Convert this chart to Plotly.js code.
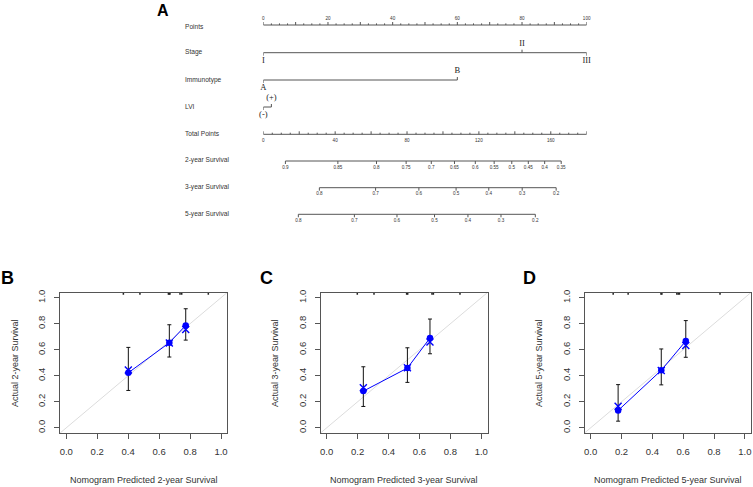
<!DOCTYPE html>
<html><head><meta charset="utf-8">
<script src="https://cdn.plot.ly/plotly-3.0.1.min.js"></script>
<style>html,body{margin:0;padding:0;background:#fff}#chart{width:753px;height:487px}</style>
</head><body><div id="chart"></div>
<script>
// ---------------- Nomogram data ----------------
const rowNames = ['Points','Stage','Immunotype','LVI','Total Points','2-year Survival','3-year Survival','5-year Survival'];
const pointsLabels = [0,20,40,60,80,100];
const stageLevels = ['I','II','III'];
const stagePoints = [0,80,100];
const immunoLevels = ['A','B'];
const immunoPoints = [0,60];
const lviLevels = ['(-)','(+)'];
const lviPoints = [0,2.5];
const totalPointsLabels = [0,40,80,120,160];
const totalPointsMax = 180;
const surv2Labels = ['0.9','0.85','0.8','0.75','0.7','0.65','0.6','0.55','0.5','0.45','0.4','0.35'];
const surv2Points = [12.3,41.5,63,79.5,93.5,106.4,118,128.5,138.3,147.5,156.6,165.8];
const surv3Labels = ['0.8','0.7','0.6','0.5','0.4','0.3','0.2'];
const surv3Points = [31.2,62.5,86.6,107.3,125.5,144.1,163.0];
const surv5Labels = ['0.8','0.7','0.6','0.5','0.4','0.3','0.2'];
const surv5Points = [19.5,50.7,74.4,95.3,113.9,132.3,151.4];

// ---------------- Calibration data ----------------
const cal2Pred = [0.401,0.666,0.772];
const cal2Obs  = [0.423,0.654,0.787];
const cal2Lo   = [0.287,0.544,0.674];
const cal2Hi   = [0.618,0.792,0.915];
const cal2Corr = [0.444,0.652,0.756];
const rug2 = [0.369,0.476,0.660,0.665,0.670,0.735,0.746,0.918];

const cal3Pred = [0.237,0.522,0.668];
const cal3Obs  = [0.282,0.459,0.690];
const cal3Lo   = [0.164,0.349,0.569];
const cal3Hi   = [0.469,0.615,0.836];
const cal3Corr = [0.308,0.462,0.659];
const rug3 = [0.198,0.306,0.517,0.524,0.681,0.690,0.862];

const cal5Pred = [0.178,0.458,0.617];
const cal5Obs  = [0.133,0.442,0.667];
const cal5Lo   = [0.051,0.330,0.542];
const cal5Hi   = [0.332,0.606,0.824];
const cal5Corr = [0.166,0.440,0.632];
const rug5 = [0.146,0.243,0.456,0.462,0.559,0.568,0.576,0.839];

const calTicks = [0,0.2,0.4,0.6,0.8,1.0];

// ---------------- Layout helpers ----------------
const W = 753, H = 487;
const px = p => p / W;
const py = p => 1 - p / H;
const rowY = [25,52.7,80,107,134.3,161,187.7,214.3];
const rowLabelY = [26.5,52.3,80,106.7,133.8,160.3,187,213.7];
const lineCol = '#555';
const sans = 'Liberation Sans, Arial, sans-serif';
const serif = 'Liberation Serif, Times New Roman, serif';

const traces = [];
function segTrace(segs, xa, color, width){
  const xs=[], ys=[];
  segs.forEach(s=>{ xs.push(s[0],s[2],null); ys.push(s[1],s[3],null); });
  traces.push({type:'scatter',mode:'lines',x:xs,y:ys,xaxis:xa,yaxis:'y',
    line:{color:color||lineCol,width:width||1},hoverinfo:'skip',showlegend:false});
}
function textTrace(xs, ys, texts, xa, font){
  traces.push({type:'scatter',mode:'text',x:xs,y:ys,text:texts,xaxis:xa,yaxis:'y',
    textposition:'middle center',textfont:font,cliponaxis:false,hoverinfo:'skip',showlegend:false});
}
const tinyFont = {family:sans,size:4.6,color:'#333'};
const levelFont = {family:serif,size:8.5,color:'#222'};

// Points axis (ticks up, labels above)
{
  const segs=[[0,rowY[0],100,rowY[0]]];
  for(let v=0; v<=100; v+=2.5){ const h=(v%10===0)?3:1.6; segs.push([v,rowY[0],v,rowY[0]-h]); }
  segTrace(segs,'x');
  textTrace(pointsLabels, pointsLabels.map(()=>rowY[0]-6.5), pointsLabels.map(String),'x',tinyFont);
}
// Categorical rows
function levelRow(r, pts, levels){
  const y=rowY[r];
  const segs=[[pts[0],y,pts[pts.length-1],y]];
  const tx=[],ty=[];
  pts.forEach((p,i)=>{
    const above = i%2===1;
    segs.push([p,y,p,above?y-3:y+3]);
    tx.push(p); ty.push(above?y-8.7:y+7.8);
  });
  segTrace(segs,'x');
  textTrace(tx,ty,levels,'x',levelFont);
}
levelRow(1,stagePoints,stageLevels);
levelRow(2,immunoPoints,immunoLevels);
levelRow(3,lviPoints,lviLevels);
// Total points (ticks up, labels below)
{
  const y=rowY[4];
  const segs=[[0,y,totalPointsMax,y]];
  for(let v=0; v<=totalPointsMax; v+=5){ const h=(v%20===0)?3:1.6; segs.push([v,y,v,y-h]); }
  segTrace(segs,'x2');
  textTrace(totalPointsLabels,totalPointsLabels.map(()=>y+6.7),totalPointsLabels.map(String),'x2',tinyFont);
}
// Survival rows (ticks down, labels below)
function survRow(r, pts, labels){
  const y=rowY[r];
  const segs=[[pts[0],y,pts[pts.length-1],y]];
  pts.forEach(p=>segs.push([p,y,p,y+3]));
  segTrace(segs,'x2');
  textTrace(pts,pts.map(()=>y+6.6),labels,'x2',tinyFont);
}
survRow(5,surv2Points,surv2Labels);
survRow(6,surv3Points,surv3Labels);
survRow(7,surv5Points,surv5Labels);

// ---------------- Calibration panels ----------------
function calPanel(n, pred, obs, lo, hi, corr, rug){
  const xa='x'+n, ya='y'+n;
  const base={xaxis:xa,yaxis:ya,hoverinfo:'skip',showlegend:false,cliponaxis:false};
  traces.push(Object.assign({type:'scatter',mode:'lines',x:[-0.04,1.04],y:[-0.04,1.04],
    line:{color:'#dcdcdc',width:1}},base,{cliponaxis:true}));
  // rug
  const rx=[],ry=[];
  rug.forEach(v=>{rx.push(v,v,null);ry.push(1.04,1.022,null);});
  traces.push(Object.assign({type:'scatter',mode:'lines',x:rx,y:ry,line:{color:'#222',width:1.5}},base));
  // apparent line + error bars
  traces.push(Object.assign({type:'scatter',mode:'lines',x:pred,y:obs,line:{color:'#0000ff',width:1}},base));
  traces.push(Object.assign({type:'scatter',mode:'markers',x:pred,y:obs,
    marker:{color:'rgba(0,0,0,0)',size:1},
    error_y:{type:'data',symmetric:false,array:hi.map((h,i)=>h-obs[i]),arrayminus:lo.map((l,i)=>obs[i]-l),
      color:'#111',thickness:1,width:2}},base));
  traces.push(Object.assign({type:'scatter',mode:'markers',x:pred,y:obs,
    marker:{color:'#0000ff',size:6.5}},base));
  traces.push(Object.assign({type:'scatter',mode:'markers',x:pred,y:corr,
    marker:{symbol:'x-thin-open',color:'#0000ff',size:7,line:{color:'#0000ff',width:1.4}}},base));
}
calPanel(3,cal2Pred,cal2Obs,cal2Lo,cal2Hi,cal2Corr,rug2);
calPanel(4,cal3Pred,cal3Obs,cal3Lo,cal3Hi,cal3Corr,rug3);
calPanel(5,cal5Pred,cal5Obs,cal5Lo,cal5Hi,cal5Corr,rug5);

const calY = [py(433), py(292.5)];
function calX(domPx, anchor){
  return {domain:[px(domPx[0]),px(domPx[1])],anchor:anchor,range:[-0.04,1.04],
    showline:true,mirror:true,linecolor:lineCol,linewidth:1,ticks:'outside',ticklen:5,tickcolor:lineCol,
    tickvals:calTicks,ticktext:calTicks.map(v=>v.toFixed(1)),tickfont:{family:sans,size:9.5,color:'#333'},
    ticklabelstandoff:5,showgrid:false,zeroline:false,fixedrange:true};
}
function calYax(anchor){
  return {domain:calY,anchor:anchor,range:[-0.04,1.04],
    showline:true,mirror:true,linecolor:lineCol,linewidth:1,ticks:'outside',ticklen:5,tickcolor:lineCol,
    tickvals:calTicks,ticktext:calTicks.map(v=>v.toFixed(1)),tickangle:-90,tickfont:{family:sans,size:9.5,color:'#333'},
    ticklabelstandoff:5,showgrid:false,zeroline:false,fixedrange:true};
}
const panelsPx = [[60.1,227.2],[320.5,487.5],[584.5,751]];
const yTitleX = [15,275,539];
const letterX = [8,266.7,529];
const letters = ['B','C','D'];
const years = ['2','3','5'];

const annotations = [];
rowNames.forEach((t,i)=>annotations.push({xref:'paper',yref:'paper',x:px(182.7),y:py(rowLabelY[i]),
  text:t,showarrow:false,xanchor:'left',yanchor:'middle',font:{family:sans,size:6.6,color:'#333'}}));
annotations.push({xref:'paper',yref:'paper',x:px(163),y:py(10.5),text:'<b>A</b>',showarrow:false,
  xanchor:'center',yanchor:'middle',font:{family:sans,size:16,color:'#000'}});
panelsPx.forEach((d,i)=>{
  annotations.push({xref:'paper',yref:'paper',x:px(letterX[i]),y:py(278),text:'<b>'+letters[i]+'</b>',showarrow:false,
    xanchor:'center',yanchor:'middle',font:{family:sans,size:18,color:'#000'}});
  annotations.push({xref:'paper',yref:'paper',x:px((d[0]+d[1])/2),y:py(480),text:'Nomogram Predicted '+years[i]+'-year Survival',
    showarrow:false,xanchor:'center',yanchor:'middle',font:{family:sans,size:9,color:'#333'}});
  annotations.push({xref:'paper',yref:'paper',x:px(yTitleX[i]),y:py(363),text:'Actual '+years[i]+'-year Survival',
    showarrow:false,textangle:-90,xanchor:'center',yanchor:'middle',font:{family:sans,size:9,color:'#333'}});
});

const layout = {
  width:W,height:H,margin:{l:0,r:0,t:0,b:0},paper_bgcolor:'#fff',plot_bgcolor:'rgba(0,0,0,0)',
  showlegend:false,hovermode:false,
  xaxis:{domain:[px(263.3),px(586.7)],range:[0,100],visible:false,anchor:'y',fixedrange:true},
  xaxis2:{overlaying:'x',range:[0,totalPointsMax],visible:false,anchor:'y',fixedrange:true},
  yaxis:{domain:[0.5,1],range:[243.5,0],visible:false,anchor:'x',fixedrange:true},
  xaxis3:calX(panelsPx[0],'y3'), yaxis3:calYax('x3'),
  xaxis4:calX(panelsPx[1],'y4'), yaxis4:calYax('x4'),
  xaxis5:calX(panelsPx[2],'y5'), yaxis5:calYax('x5'),
  annotations:annotations
};
Plotly.newPlot('chart',traces,layout,{staticPlot:true,displayModeBar:false});
</script></body></html>
